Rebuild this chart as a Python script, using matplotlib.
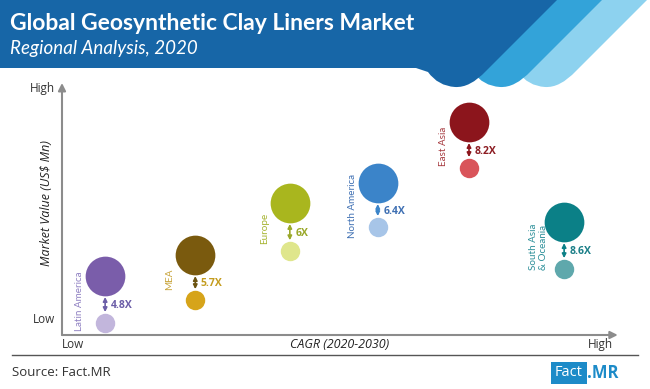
import numpy as np
import matplotlib.pyplot as plt
from matplotlib.patches import PathPatch, Rectangle
from matplotlib.path import Path

# chart data (qualitative axes: 0 = Low, 100 = High)
regions = ['Latin America', 'MEA', 'Europe', 'North America', 'East Asia', 'South Asia\n& Oceania']
cagr_pos = [7.8, 24.1, 41.2, 57.1, 73.6, 90.8]
value_2030 = [23.4, 31.7, 52.4, 60.3, 84.5, 44.8]
value_2020 = [4.8, 13.9, 33.3, 42.9, 66.3, 26.2]
multipliers = ['4.8X', '5.7X', '6X', '6.4X', '8.2X', '8.6X']

big_colors = ['#7a5daa', '#7a5a0e', '#a9b61e', '#3b84c9', '#8c151c', '#0b8087']
small_colors = ['#c2b6dc', '#d6a41a', '#dfe68c', '#a7c5e8', '#d9545a', '#5fa8ac']
name_colors = ['#8f80c2', '#c9a53c', '#a5b32e', '#3f70b3', '#a63a3f', '#2c8f99']
mult_colors = ['#6c5ea8', '#c49c1e', '#9aa82a', '#3f70b3', '#8c1c22', '#1b7f88']
arrow_colors = ['#6c5ea8', '#6b5310', '#9aa82a', '#3b84c9', '#8c151c', '#0b8087']

W, H = 650, 389
fig = plt.figure(figsize=(6.5, 3.89), dpi=100)


def fp(x, y):
    # pixel (from top-left) -> figure fraction
    return (x / W, 1 - y / H)


# header: three overlapping layers with rounded "teeth"
def layer(right_x, color, left_end):
    b = right_x - 71  # where the right edge meets the rounded bottom
    verts = [(0, 0), (right_x, 0), (b, 71),
             (b - 16, 88), (b - 31, 87),
             (b - 48, 86), (b - 58, 72),
             (left_end[0], left_end[1]), (0, left_end[1]), (0, 0)]
    codes = [Path.MOVETO, Path.LINETO, Path.LINETO,
             Path.CURVE3, Path.CURVE3,
             Path.CURVE3, Path.CURVE3,
             Path.LINETO, Path.LINETO, Path.CLOSEPOLY]
    path = Path([fp(*v) for v in verts], codes)
    fig.patches.append(PathPatch(path, transform=fig.transFigure, color=color, lw=0, zorder=0))


layer(647, '#8dd2ef', (500, 60))
layer(602, '#33a3d9', (455, 60))
layer(557, '#1766a7', (416, 68))

fig.text(*fp(10, 30), 'Global Geosynthetic Clay Liners Market', color='white',
         fontsize=16.5, fontweight='bold', family='Lato', va='baseline')
fig.text(*fp(10, 54), 'Regional Analysis, 2020', color='white',
         fontsize=13.5, style='italic', family='Lato', va='baseline')

# main axes
ax = fig.add_axes([62 / W, 1 - 335 / H, (615 - 62) / W, (335 - 83) / H])
ax.set_xlim(0, 100)
ax.set_ylim(0, 100)
ax.axis('off')
ax.annotate('', xy=(1.005, 0), xytext=(0, 0), xycoords='axes fraction',
            arrowprops=dict(arrowstyle='-|>', color='#8c8c8c', lw=1.5,
                            mutation_scale=11, shrinkA=0, shrinkB=0))
ax.annotate('', xy=(0, 1.0), xytext=(0, 0), xycoords='axes fraction',
            arrowprops=dict(arrowstyle='-|>', color='#8c8c8c', lw=1.5,
                            mutation_scale=11, shrinkA=0, shrinkB=0))

big_r, small_r = 14.3, 7.0  # radius in points
for i in range(len(regions)):
    x = cagr_pos[i]
    ax.scatter(x, value_2030[i], s=(2 * big_r) ** 2, color=big_colors[i], lw=0, zorder=3)
    ax.scatter(x, value_2020[i], s=(2 * small_r) ** 2, color=small_colors[i], lw=0, zorder=3)
    ax.annotate('', xy=(x, value_2020[i]), xytext=(x, value_2030[i]),
                arrowprops=dict(arrowstyle='<|-|>', color=arrow_colors[i], lw=1.2,
                                mutation_scale=6, shrinkA=big_r + 0.8, shrinkB=small_r + 0.8))
    mid = (value_2030[i] + value_2020[i]) / 2
    ax.annotate(multipliers[i], xy=(x, mid), xytext=(4, -4.5), textcoords='offset points',
                color=mult_colors[i], fontsize=7.5, fontweight='bold', family='Open Sans',
                ha='left', va='center')
    ax.annotate(regions[i], xy=(x, mid), xytext=(-18.5, -1), textcoords='offset points',
                color=name_colors[i], fontsize=7.1, family='Lato', rotation=90,
                ha='center', va='center', multialignment='left', linespacing=1.1,
                annotation_clip=False)

# axis labels
lab = dict(fontsize=8.5, color='#333333', family='Open Sans')
fig.text(*fp(55, 92), 'High', ha='right', va='baseline', **lab)
fig.text(*fp(55, 323), 'Low', ha='right', va='baseline', **lab)
fig.text(*fp(73, 348), 'Low', ha='center', va='baseline', **lab)
fig.text(*fp(600, 348), 'High', ha='center', va='baseline', **lab)
fig.text(*fp(340, 348), 'CAGR (2020-2030)', ha='center', va='baseline',
         style='italic', fontsize=9, color='#222222', family='Open Sans')
fig.text(*fp(47, 203), 'Market Value (US$ Mn)', ha='center', va='center', rotation=90,
         style='italic', fontsize=9, color='#222222', family='Open Sans')

# footer
fig.add_artist(plt.Line2D([12 / W, 638 / W], [1 - 355 / H] * 2, color='#555555', lw=1,
                          transform=fig.transFigure))
fig.text(*fp(12, 373), 'Source: Fact.MR', fontsize=9.5, color='#333333',
         family='Open Sans', va='center')
fig.patches.append(Rectangle(fp(551, 384), 36 / W, 22 / H, transform=fig.transFigure,
                             color='#1d8bc8', lw=0))
fig.text(*fp(569, 373), 'Fact', fontsize=10.5, color='white', family='Open Sans',
         ha='center', va='center')
fig.text(*fp(587, 373), '.MR', fontsize=12, color='#1d8bc8', family='Open Sans',
         fontweight='bold', ha='left', va='center')

fig.savefig('out.png', dpi=100)
